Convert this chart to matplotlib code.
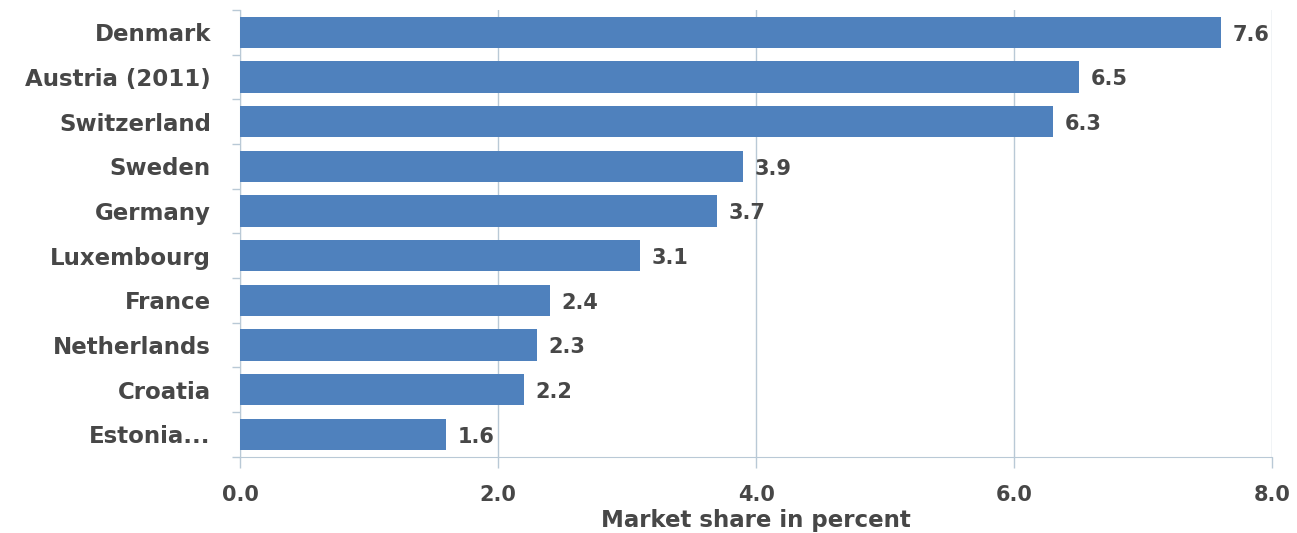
import numpy as np
import matplotlib.pyplot as plt

# Datos
countries = ['Denmark', 'Austria (2011)', 'Switzerland', 'Sweden', 'Germany',
             'Luxembourg', 'France', 'Netherlands', 'Croatia', 'Estonia...']
share = [7.6, 6.5, 6.3, 3.9, 3.7, 3.1, 2.4, 2.3, 2.2, 1.6]
xticks = [0, 2, 4, 6, 8]

bar_color = '#4F81BD'
grid_color = '#B9C9D6'
text_color = '#474747'

plt.rcParams['font.family'] = ['DejaVu Sans']
plt.rcParams['font.weight'] = 'bold'

fig = plt.figure(figsize=(12.97, 5.33), dpi=100)
ax = fig.add_axes([0.185, 0.143, 0.796, 0.838])

y = np.arange(len(countries))
ax.barh(y, share, height=0.7, color=bar_color, zorder=3)

# Etiquetas de valor
for yi, v in zip(y, share):
    ax.text(v + 0.09, yi + 0.05, f'{v:.1f}', va='center', ha='left',
            fontsize=15, fontweight='bold', color=text_color, zorder=4)

ax.set_xlim(0, 8)
ax.set_ylim(len(countries) - 0.5, -0.5)
ax.set_xticks(xticks)
ax.set_xticklabels([f'{t:.1f}' for t in xticks])
ax.set_yticks(y)
ax.set_yticklabels(countries)
ax.set_yticks(np.arange(-0.5, len(countries), 1), minor=True)

ax.tick_params(axis='y', which='major', length=0, pad=21, labelsize=16.5, labelcolor=text_color)
ax.tick_params(axis='y', which='minor', length=6, color=grid_color, width=1)
ax.tick_params(axis='x', length=8, color=grid_color, width=1, pad=12,
               labelsize=15, labelcolor=text_color)

ax.grid(axis='x', color=grid_color, linewidth=1, zorder=0)
for side in ['top', 'right']:
    ax.spines[side].set_visible(False)
ax.spines['left'].set_color(grid_color)
ax.spines['bottom'].set_color(grid_color)

ax.set_xlabel('Market share in percent', fontsize=16.5, fontweight='bold',
              color=text_color, labelpad=3)

plt.savefig('out.png', dpi=100)
